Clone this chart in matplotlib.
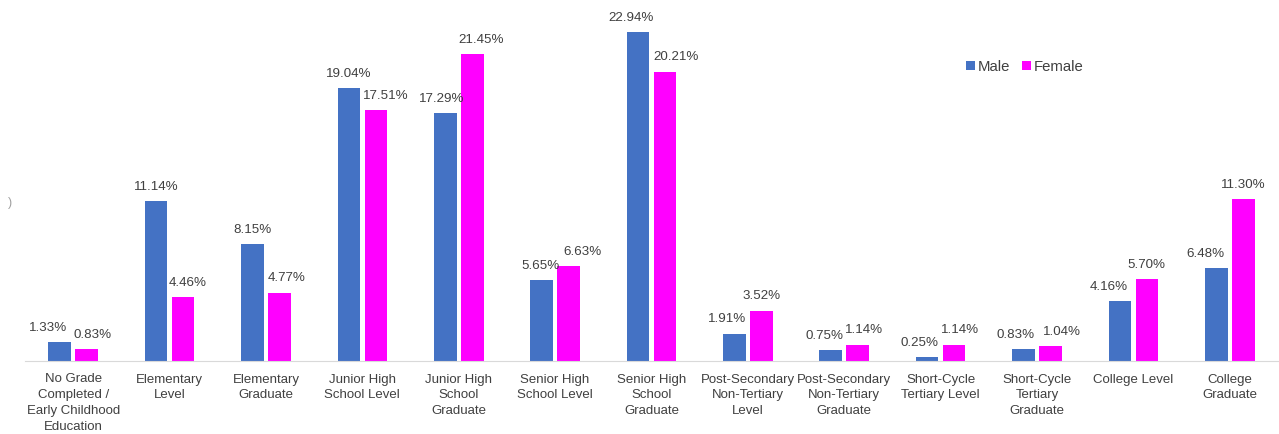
import matplotlib.pyplot as plt
import numpy as np

plt.rcParams['font.family'] = ['Liberation Sans', 'DejaVu Sans']

categories = ["No Grade\nCompleted /\nEarly Childhood\nEducation", "Elementary\nLevel",
              "Elementary\nGraduate", "Junior High\nSchool Level", "Junior High\nSchool\nGraduate",
              "Senior High\nSchool Level", "Senior High\nSchool\nGraduate",
              "Post-Secondary\nNon-Tertiary\nLevel", "Post-Secondary\nNon-Tertiary\nGraduate",
              "Short-Cycle\nTertiary Level", "Short-Cycle\nTertiary\nGraduate",
              "College Level", "College\nGraduate"]
male = [1.33, 11.14, 8.15, 19.04, 17.29, 5.65, 22.94, 1.91, 0.75, 0.25, 0.83, 4.16, 6.48]
female = [0.83, 4.46, 4.77, 17.51, 21.45, 6.63, 20.21, 3.52, 1.14, 1.14, 1.04, 5.70, 11.30]

# horizontal nudges of the data labels (pixels), like the label placement in the original
male_dx = [-12, 0, 0, 0, -4, -1, -7, -7, -6, -8, -8, -11, -11]
female_dx = [6, 5, 7, 10, 9, 14, 11, 0, 6, 6, 11, 0, 0]

blue = "#4472C4"
pink = "#FF00FF"
grey = "#404040"

fig = plt.figure(figsize=(12.79, 4.34), dpi=100)
ax = fig.add_axes([25 / 1279, 73 / 434, 1253 / 1279, 358 / 434])

x = np.arange(len(categories))
w = 0.235
off = 0.14
bm = ax.bar(x - off, male, w, color=blue, label="Male")
bf = ax.bar(x + off, female, w, color=pink, label="Female")

for bars, vals, dxs in [(bm, male, male_dx), (bf, female, female_dx)]:
    for b, v, dx in zip(bars, vals, dxs):
        ax.annotate(f"{v:.2f}%", (b.get_x() + b.get_width() / 2, v), xytext=(dx * 0.72, 6),
                    textcoords="offset points", ha="center", va="bottom",
                    fontsize=9.6, color=grey)

ax.set_xlim(-0.5, len(categories) - 0.5)
ax.set_ylim(0, 25)
ax.set_xticks(x)
ax.set_xticklabels(categories, fontsize=9.5, color=grey, linespacing=1.43)
ax.tick_params(axis="x", length=0, pad=9)
ax.set_yticks([])
for s in ["top", "right", "left"]:
    ax.spines[s].set_visible(False)
ax.spines["bottom"].set_color("#D9D9D9")

leg = ax.legend(loc="center", bbox_to_anchor=((1025 - 25) / 1253, 1 - (67 - 3) / 358), ncol=2,
                frameon=False, fontsize=10.7, handlelength=0.6, handleheight=0.6,
                handletextpad=0.2, columnspacing=0.8)
for t in leg.get_texts():
    t.set_color(grey)

fig.text(10 / 1279, 1 - 203 / 434, ")", fontsize=9, color="#A0A0A0", ha="center", va="center")

fig.savefig("out.png", dpi=100)
